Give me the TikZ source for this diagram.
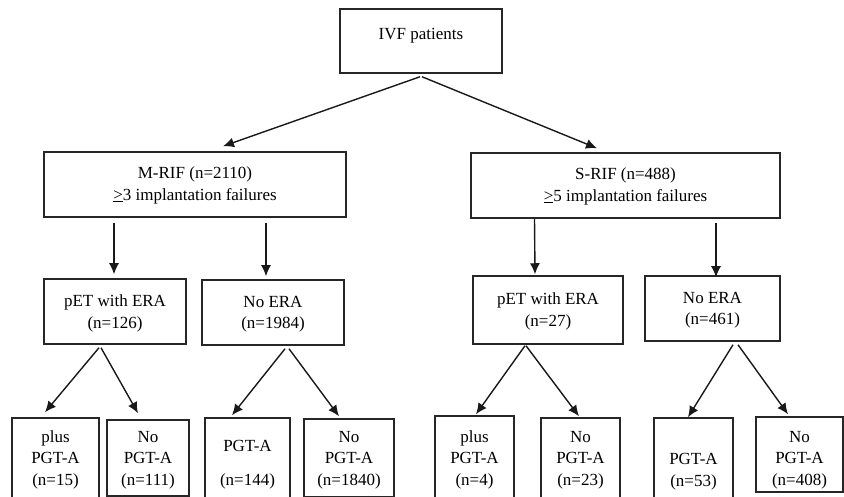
\documentclass[tikz,border=0pt]{standalone}
\usepackage{fontspec}
\setmainfont{Liberation Serif}
\usetikzlibrary{arrows.meta}
\begin{document}
\begin{tikzpicture}[x=1pt,y=-1pt,
  box/.style={draw=black!85, line width=1.5pt, inner sep=2pt, align=center,
    font=\fontsize{17}{21.5}\selectfont},
  two/.style={text height=37pt, text depth=4pt},
  three/.style={text height=58.6pt, text depth=3.7pt},
  arr/.style={line width=1.4pt, draw=black!90, -{Latex[length=11pt,width=10pt]}}]
\useasboundingbox (0,0) rectangle (844,497);
\clip (0,0) rectangle (844,497);
% top
\node[box, minimum width=162pt, minimum height=64pt, text height=12pt, text depth=14pt] (ivf) at (421,41) {IVF patients};
\node[box, minimum width=302pt, minimum height=65pt, text height=35.5pt, text depth=4pt] (mrif) at (195,184.5) {M-RIF (n=2110)\\\underline{>}3 implantation failures};
\node[box, minimum width=309pt, minimum height=65pt, text height=35.5pt, text depth=4pt] (srif) at (625.5,185.5) {S-RIF (n=488)\\\underline{>}5 implantation failures};
% middle
\node[box, two, minimum width=142pt, minimum height=65pt] (pet1) at (115,311.5) {pET with ERA\\(n=126)};
\node[box, two, minimum width=142pt, minimum height=65pt] (noera1) at (273,312.5) {No ERA\\(n=1984)};
\node[box, two, minimum width=150pt, minimum height=68pt] (pet2) at (548,310) {pET with ERA\\(n=27)};
\node[box, two, minimum width=135pt, minimum height=65pt] (noera2) at (712.5,308.5) {No ERA\\(n=461)};
% bottom
\node[box, three, minimum width=87pt, minimum height=80pt] (b1) at (55.5,458) {plus\\PGT-A\\(n=15)};
\node[box, three, minimum width=82pt, minimum height=76pt] (b2) at (148,458) {No\\PGT-A\\(n=111)};
\node[box, minimum width=85pt, minimum height=88pt, text height=50pt, text depth=3.7pt] (b3) at (247.5,462) {PGT-A\\[12pt](n=144)};
\node[box, three, minimum width=90pt, minimum height=78pt] (b4) at (349,458) {No\\PGT-A\\(n=1840)};
\node[box, three, minimum width=79pt, minimum height=84pt] (b5) at (474.5,458) {plus\\PGT-A\\(n=4)};
\node[box, three, minimum width=79pt, minimum height=80pt] (b6) at (580.5,458) {No\\PGT-A\\(n=23)};
\node[box, minimum width=79pt, minimum height=102pt, text height=38pt, text depth=3.7pt] (b7) at (693.5,469) {PGT-A\\(n=53)};
\node[box, minimum width=87pt, minimum height=75pt, text height=65.6pt, text depth=3.7pt] (b8) at (799.5,454.5) {No\\PGT-A\\(n=408)};
% arrows
\draw[arr] ([xshift=-1pt,yshift=-3pt]ivf.south) -- ([xshift=28pt,yshift=5pt]mrif.north);
\draw[arr] ([xshift=1pt,yshift=-3pt]ivf.south) -- ([xshift=-28.5pt,yshift=4pt]srif.north);
\draw[arr] ([xshift=-81pt,yshift=-5pt]mrif.south) -- ([xshift=-1pt,yshift=4pt]pet1.north);
\draw[arr] ([xshift=71pt,yshift=-5pt]mrif.south) -- ([xshift=-7pt,yshift=3pt]noera1.north);
\draw[arr] ([xshift=-91pt]srif.south) -- ([xshift=-13pt,yshift=1pt]pet2.north);
\draw[arr] ([xshift=90.5pt,yshift=-4pt]srif.south) -- ([xshift=3.5pt,yshift=-2pt]noera2.north);
\draw[arr] ([xshift=-16pt,yshift=-3pt]pet1.south) -- ([xshift=-10.5pt,yshift=5pt]b1.north);
\draw[arr] ([xshift=-14pt,yshift=-3pt]pet1.south) -- ([xshift=-10pt,yshift=6pt]b2.north);
\draw[arr] ([xshift=12pt,yshift=-3pt]noera1.south) -- ([xshift=-15.5pt,yshift=2pt]b3.north);
\draw[arr] ([xshift=16pt,yshift=-3pt]noera1.south) -- ([xshift=-10pt,yshift=2pt]b4.north);
\draw[arr] ([xshift=-23pt,yshift=-1pt]pet2.south) -- ([xshift=1.5pt,yshift=1pt]b5.north);
\draw[arr] ([xshift=-22pt,yshift=-1pt]pet2.south) -- ([xshift=-1.5pt,yshift=1pt]b6.north);
\draw[arr] ([xshift=20.5pt,yshift=-3pt]noera2.south) -- ([xshift=-5.5pt,yshift=0pt]b7.north);
\draw[arr] ([xshift=25.5pt,yshift=-3pt]noera2.south) -- ([xshift=-11.5pt,yshift=2pt]b8.north);
\end{tikzpicture}
\end{document}
